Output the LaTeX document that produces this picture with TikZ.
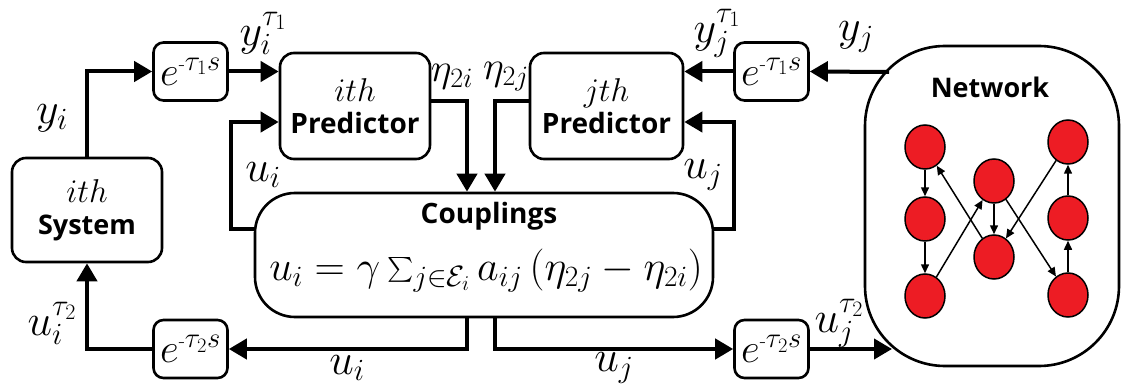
\RequirePackage{fix-cm}
\documentclass[tikz,border=0pt]{standalone}
\usepackage{amsmath}
\usepackage{fontspec}
\newfontfamily\bsans{Open Sans}
\usetikzlibrary{arrows.meta,shapes.geometric}
\definecolor{nodered}{HTML}{ED1C24}
\newcommand{\tinyminus}{{\scriptscriptstyle\text{-}}}
\begin{document}
\begin{tikzpicture}[x=1pt,y=-1pt,
  blk/.style={draw, line width=2.6pt, rounded corners=14pt, inner sep=0pt, align=center,
    font=\fontsize{33}{32}\selectfont},
  dly/.style={draw, line width=2.6pt, rounded corners=10pt, inner sep=0pt,
    minimum width=74pt, minimum height=58pt, font=\fontsize{41}{44}\selectfont},
  wire/.style={line width=4pt, -{Triangle[length=18pt,width=20pt]}},
  lbl/.style={font=\fontsize{44}{46}\selectfont, inner sep=0pt},
  elbl/.style={font=\fontsize{40}{42}\selectfont, inner sep=0pt},
  tsans/.style={font=\fontsize{28}{30}\selectfont\bsans\bfseries, inner sep=0pt},
  agent/.style={draw, ellipse, line width=1.5pt, fill=nodered, minimum width=40pt,
    minimum height=44pt, inner sep=0pt},
  link/.style={line width=1.5pt, -{Triangle[length=9pt,width=8pt]}}
]
\useasboundingbox (0,0) rectangle (1122,385);

% blocks
\node[blk, minimum width=150pt, minimum height=104pt] (sys) at (87,210)
  {$ith$\\{\bsans\bfseries\fontsize{27}{32}\selectfont System}};
\node[blk, minimum width=150pt, minimum height=106pt] (p1) at (355,106)
  {$ith$\\{\bsans\bfseries\fontsize{28}{32}\selectfont Predictor}};
\node[blk, minimum width=153pt, minimum height=106pt] (p2) at (606.5,106)
  {$jth$\\{\bsans\bfseries\fontsize{28}{32}\selectfont Predictor}};
\node[dly] (d1) at (190.5,71.5) {$e^{\tinyminus\tau_1 s}$};
\node[dly] (d2) at (771.5,71.5) {$e^{\tinyminus\tau_1 s}$};
\node[dly] (d3) at (190.5,349) {$e^{\tinyminus\tau_2 s}$};
\node[dly] (d4) at (771.5,349) {$e^{\tinyminus\tau_2 s}$};
\node[draw, line width=2.6pt, rounded corners=40pt, minimum width=458pt,
  minimum height=124pt, inner sep=0pt] (cpl) at (484,255) {};
\node[tsans, anchor=base] (cpltitle) at (489,223) {Couplings};
\node[font=\fontsize{42}{44}\selectfont, inner sep=0pt, anchor=base] (cplf) at (486,280)
  {$u_i = \gamma \sum_{j\in\mathcal{E}_i} a_{ij}\,(\eta_{2j}-\eta_{2i})$};
\node[draw, line width=2.6pt, rounded corners=80pt, minimum width=254pt,
  minimum height=320pt, inner sep=0pt] (net) at (992,206) {};
\node[tsans, font=\fontsize{27}{30}\selectfont\bsans\bfseries, anchor=base] (nettitle) at (990,98) {Network};

% network agents
\node[agent] (a1) at (925,147) {};
\node[agent] (a2) at (925,219) {};
\node[agent] (a3) at (925,296) {};
\node[agent] (b1) at (994,181) {};
\node[agent] (b2) at (994,257) {};
\node[agent] (c1) at (1068,142) {};
\node[agent] (c2) at (1068,218) {};
\node[agent] (c3) at (1068,295) {};
\draw[link] (a1) -- (a2);
\draw[link] (a2) -- (a3);
\draw[link] (a3) -- (b1);
\draw[link] (b2) -- (a1);
\draw[link] (b1) -- (b2);
\draw[link] (b1) -- (c3);
\draw[link] (c1) -- (b2);
\draw[link] (c3) -- (c2);
\draw[link] (c2) -- (c1);

% free ends on network border
\coordinate (nin1) at (889,72);
\coordinate (nin2) at (892,349);

% wires
\draw[wire] (sys.north) |- (d1.west);
\draw[wire] (d1.east) -- (p1.west |- d1.east);
\draw[wire] ([yshift=26pt]cpl.west) -- ++(-23,0) |- ([yshift=-16pt]p1.west);
\draw[wire] ([yshift=5pt]p1.east) -| ([xshift=-17pt]cpl.north);
\draw[wire] ([yshift=5pt]p2.west) -| ([xshift=11pt]cpl.north);
\draw[wire] ([yshift=26pt]cpl.east) -- ++(20,0) |- ([yshift=-16pt]p2.east);
\draw[wire] (nin1) -- (d2.east);
\draw[wire] (d2.west) -- (p2.east |- d2.west);
\draw[wire] ([xshift=-17pt]cpl.south) |- (d3.east);
\draw[wire] (d3.west) -| (sys.south);
\draw[wire] ([xshift=11pt]cpl.south) |- (d4.west);
\draw[wire] (d4.east) -- (nin2);

% labels
\node[lbl] (lyi) at (52,118) {$y_i$};
\node[lbl] (lyit) at (263,33) {$y_i^{\tau_1}$};
\node[elbl] (le2i) at (452,77) {$\eta_{2i}$};
\node[elbl] (le2j) at (506,77) {$\eta_{2j}$};
\node[lbl] (lui) at (263,175) {$u_i$};
\node[lbl] (luj) at (703,175) {$u_j$};
\node[lbl] (lyjt) at (717,33) {$y_j^{\tau_1}$};
\node[lbl] (lyj) at (856,37) {$y_j$};
\node[lbl] (luit) at (52,323) {$u_i^{\tau_2}$};
\node[lbl] (luib) at (347,368) {$u_i$};
\node[lbl] (lujb) at (614,368) {$u_j$};
\node[lbl] (lujt) at (839,323) {$u_j^{\tau_2}$};
\end{tikzpicture}
\end{document}
